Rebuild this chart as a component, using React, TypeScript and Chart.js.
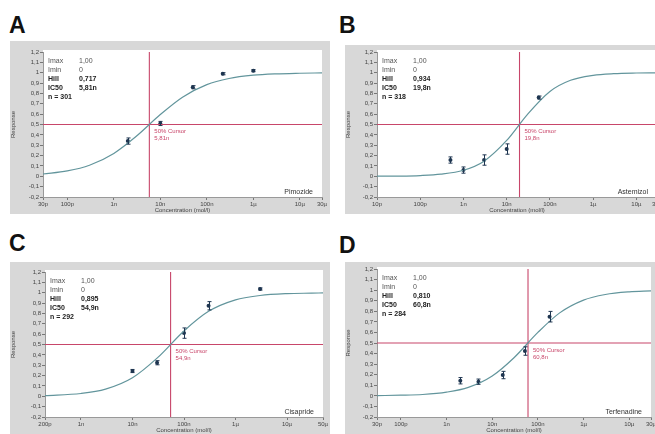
import React, { useEffect, useRef } from "react";
import { Chart, registerables } from "chart.js";

Chart.register(...registerables);

// ---------- data ----------
const PANEL_LETTERS = ["A", "B", "C", "D"];
const DRUG_NAMES = ["Pimozide", "Astemizol", "Cisapride", "Terfenadine"];
const IMAX_TEXT = ["1,00", "1,00", "1,00", "1,00"];
const IMIN_TEXT = ["0", "0", "0", "0"];
const HILL_TEXT = ["0,717", "0,934", "0,895", "0,810"];
const IC50_TEXT = ["5,81n", "19,8n", "54,9n", "60,8n"];
const N_CELLS = [301, 318, 292, 284];
const IC50_VALUES = [5.81e-9, 1.98e-8, 5.49e-8, 6.08e-8];

const X_MIN = [3e-11, 1e-11, 2e-10, 3e-11];
const X_MAX = [3e-5, 3e-5, 5e-5, 3e-5];

const TICKS_A = [3e-11, 1e-10, 1e-9, 1e-8, 1e-7, 1e-6, 1e-5, 3e-5];
const TICK_LABELS_A = ["30p", "100p", "1n", "10n", "100n", "1µ", "10µ", "30µ"];
const TICKS_B = [1e-11, 1e-10, 1e-9, 1e-8, 1e-7, 1e-6, 1e-5, 3e-5];
const TICK_LABELS_B = ["10p", "100p", "1n", "10n", "100n", "1µ", "10µ", "30µ"];
const TICKS_C = [2e-10, 1e-9, 1e-8, 1e-7, 1e-6, 1e-5, 5e-5];
const TICK_LABELS_C = ["200p", "1n", "10n", "100n", "1µ", "10µ", "50µ"];
const TICKS_D = [3e-11, 1e-10, 1e-9, 1e-8, 1e-7, 1e-6, 1e-5, 3e-5];
const TICK_LABELS_D = ["30p", "100p", "1n", "10n", "100n", "1µ", "10µ", "30µ"];

// fitted curves
const CURVE_A_X = [3e-11, 1e-10, 3e-10, 1e-9, 3e-9, 1e-8, 3e-8, 1e-7, 3e-7, 1e-6, 3e-6, 1e-5, 3e-5];
const CURVE_A_Y = [0.022, 0.052, 0.107, 0.221, 0.384, 0.596, 0.764, 0.885, 0.944, 0.976, 0.989, 0.995, 0.998];
const CURVE_B_X = [1e-11, 3e-11, 1e-10, 3e-10, 1e-9, 3e-9, 1e-8, 3e-8, 1e-7, 3e-7, 1e-6, 3e-6, 1e-5, 3e-5];
const CURVE_B_Y = [0.001, 0.002, 0.007, 0.02, 0.058, 0.146, 0.346, 0.596, 0.819, 0.927, 0.975, 0.991, 0.997, 0.999];
const CURVE_C_X = [2e-10, 1e-9, 3e-9, 1e-8, 3e-8, 1e-7, 3e-7, 1e-6, 3e-6, 1e-5, 3e-5, 5e-5];
const CURVE_C_Y = [0.007, 0.027, 0.069, 0.179, 0.368, 0.631, 0.82, 0.931, 0.973, 0.991, 0.996, 0.998];
const CURVE_D_X = [3e-11, 1e-10, 3e-10, 1e-9, 3e-9, 1e-8, 3e-8, 1e-7, 3e-7, 1e-6, 3e-6, 1e-5, 3e-5];
const CURVE_D_Y = [0.002, 0.006, 0.013, 0.035, 0.08, 0.188, 0.361, 0.6, 0.785, 0.906, 0.959, 0.984, 0.993];

// measured points (mean ± error)
const POINTS_A_X = [2e-9, 1e-8, 5e-8, 2.2e-7, 1e-6];
const POINTS_A_Y = [0.34, 0.51, 0.86, 0.99, 1.02];
const POINTS_A_ERR = [0.03, 0.02, 0.015, 0.01, 0.01];
const POINTS_B_X = [5e-10, 1e-9, 3e-9, 1e-8, 5.5e-8];
const POINTS_B_Y = [0.157, 0.06, 0.157, 0.263, 0.76];
const POINTS_B_ERR = [0.03, 0.03, 0.05, 0.05, 0.015];
const POINTS_C_X = [1e-8, 3e-8, 1e-7, 3e-7, 3e-6];
const POINTS_C_Y = [0.244, 0.324, 0.61, 0.874, 1.036];
const POINTS_C_ERR = [0.015, 0.02, 0.05, 0.04, 0.01];
const POINTS_D_X = [2e-9, 5e-9, 1.7e-8, 5.2e-8, 1.8e-7];
const POINTS_D_Y = [0.143, 0.134, 0.197, 0.424, 0.749];
const POINTS_D_ERR = [0.03, 0.025, 0.035, 0.04, 0.05];

const TICKS = [TICKS_A, TICKS_B, TICKS_C, TICKS_D];
const TICK_LABELS = [TICK_LABELS_A, TICK_LABELS_B, TICK_LABELS_C, TICK_LABELS_D];
const CURVES_X = [CURVE_A_X, CURVE_B_X, CURVE_C_X, CURVE_D_X];
const CURVES_Y = [CURVE_A_Y, CURVE_B_Y, CURVE_C_Y, CURVE_D_Y];
const POINTS_X = [POINTS_A_X, POINTS_B_X, POINTS_C_X, POINTS_D_X];
const POINTS_Y = [POINTS_A_Y, POINTS_B_Y, POINTS_C_Y, POINTS_D_Y];
const POINTS_ERR = [POINTS_A_ERR, POINTS_B_ERR, POINTS_C_ERR, POINTS_D_ERR];

// ---------- layout / style ----------
const LAYOUT = [
  { left: 10, top: 41, width: 320, height: 173, padTop: 11, padRight: 8, yW: 33, xH: 17, letterTop: 12, letterLeft: 9 },
  { left: 345, top: 45, width: 322, height: 169, padTop: 7, padRight: 10, yW: 32, xH: 17, letterTop: 12, letterLeft: 339 },
  { left: 10, top: 262, width: 320, height: 172, padTop: 10, padRight: 7, yW: 35, xH: 17, letterTop: 230, letterLeft: 9 },
  { left: 345, top: 262, width: 322, height: 172, padTop: 7, padRight: 16, yW: 32, xH: 17, letterTop: 232, letterLeft: 339 },
];
const FONT = "'Liberation Sans', Arial, sans-serif";
const GREY = "#d8d8d8";
const RED = "#c8466a";
const CURVE = "#62959c";
const MARK = "#1e3550";

const fmtY = (v: number) => {
  const s = (Math.round(v * 10) / 10).toFixed(1);
  if (s === "-0.0") return "0";
  return s.endsWith(".0") ? s.slice(0, -2) : s.replace(".", ",");
};

const bgPlugin = {
  id: "panelBg",
  beforeDraw(chart: any) {
    const { ctx, chartArea: a, width, height } = chart;
    ctx.save();
    ctx.fillStyle = GREY;
    ctx.fillRect(0, 0, width, height);
    ctx.fillStyle = "#ffffff";
    ctx.fillRect(a.left, a.top - 2, a.right - a.left, a.bottom - a.top + 3);
    ctx.restore();
  },
};

const errPlugin = {
  id: "errBars",
  afterDatasetsDraw(chart: any, _args: any, opts: any) {
    const { ctx } = chart;
    const meta = chart.getDatasetMeta(3);
    const ys = chart.scales.y;
    ctx.save();
    ctx.strokeStyle = MARK;
    ctx.lineWidth = 1;
    meta.data.forEach((pt: any, i: number) => {
      const raw = chart.data.datasets[3].data[i];
      const e = opts.err[i];
      const x = Math.round(pt.x) + 0.5;
      const y1 = ys.getPixelForValue(raw.y + e);
      const y2 = ys.getPixelForValue(raw.y - e);
      ctx.beginPath();
      ctx.moveTo(x, y1);
      ctx.lineTo(x, y2);
      ctx.moveTo(x - 2, y1);
      ctx.lineTo(x + 2, y1);
      ctx.moveTo(x - 2, y2);
      ctx.lineTo(x + 2, y2);
      ctx.stroke();
    });
    ctx.restore();
  },
};

const textPlugin = {
  id: "panelText",
  afterDraw(chart: any, _args: any, opts: any) {
    const { ctx, chartArea: a } = chart;
    ctx.save();
    ctx.textBaseline = "middle";
    ctx.textAlign = "left";
    const rows = [
      ["Imax", opts.imax, false],
      ["Imin", opts.imin, false],
      ["Hill", opts.hill, true],
      ["IC50", opts.ic50, true],
    ];
    rows.forEach((r, k) => {
      ctx.font = `${r[2] ? "bold " : ""}7px ${FONT}`;
      ctx.fillStyle = r[2] ? "#222" : "#555";
      const y = a.top + 9 + k * 9;
      ctx.fillText(r[0] as string, a.left + 5, y);
      ctx.fillText(r[1] as string, a.left + 36, y);
    });
    ctx.font = `bold 7px ${FONT}`;
    ctx.fillStyle = "#222";
    ctx.fillText(`n = ${opts.n}`, a.left + 5, a.top + 9 + 4 * 9);

    // cursor label
    const xs = chart.scales.x;
    const ys = chart.scales.y;
    const cx = xs.getPixelForValue(opts.ic50v);
    const cy = ys.getPixelForValue(0.5);
    ctx.font = `6px ${FONT}`;
    ctx.fillStyle = RED;
    ctx.fillText("50% Cursor", cx + 5, cy + 7);
    ctx.fillText(opts.ic50, cx + 5, cy + 14);

    // drug name
    ctx.font = `7px ${FONT}`;
    ctx.fillStyle = "#333";
    ctx.textAlign = "right";
    ctx.fillText(opts.drug, a.right - 9, a.bottom - 5);
    ctx.restore();
  },
};

function Panel({ idx }: { idx: number }) {
  const ref = useRef<HTMLCanvasElement | null>(null);
  const L = LAYOUT[idx];
  useEffect(() => {
    if (!ref.current) return;
    const ticks = TICKS[idx];
    const labels = TICK_LABELS[idx];
    const xmin = X_MIN[idx];
    const xmax = X_MAX[idx];
    const ic50 = IC50_VALUES[idx];
    const chart = new Chart(ref.current, {
      type: "line",
      data: {
        datasets: [
          {
            label: "fit",
            data: CURVES_X[idx].map((x, i) => ({ x, y: CURVES_Y[idx][i] })),
            borderColor: CURVE,
            borderWidth: 1.2,
            pointRadius: 0,
            cubicInterpolationMode: "monotone",
            fill: false,
          },
          {
            label: "v",
            data: [
              { x: ic50, y: -0.2 },
              { x: ic50, y: 1.2 },
            ],
            borderColor: RED,
            borderWidth: 1.1,
            pointRadius: 0,
          },
          {
            label: "h",
            data: [
              { x: xmin, y: 0.5 },
              { x: xmax, y: 0.5 },
            ],
            borderColor: RED,
            borderWidth: 1.1,
            pointRadius: 0,
          },
          {
            label: "points",
            data: POINTS_X[idx].map((x, i) => ({ x, y: POINTS_Y[idx][i] })),
            showLine: false,
            pointRadius: 2,
            pointBackgroundColor: MARK,
            pointBorderColor: MARK,
            pointBorderWidth: 0,
          },
        ],
      } as any,
      options: {
        animation: false,
        responsive: false,
        maintainAspectRatio: false,
        devicePixelRatio: 1,
        layout: { padding: { top: L.padTop, right: L.padRight, left: 0, bottom: 0 } },
        font: { family: FONT },
        plugins: {
          legend: { display: false },
          tooltip: { enabled: false },
          errBars: { err: POINTS_ERR[idx] },
          panelText: {
            imax: IMAX_TEXT[idx],
            imin: IMIN_TEXT[idx],
            hill: HILL_TEXT[idx],
            ic50: IC50_TEXT[idx],
            ic50v: ic50,
            n: N_CELLS[idx],
            drug: DRUG_NAMES[idx],
          },
        } as any,
        scales: {
          x: {
            type: "logarithmic",
            min: xmin,
            max: xmax,
            afterBuildTicks: (s: any) => {
              s.ticks = ticks.map((v) => ({ value: v }));
            },
            afterFit: (s: any) => {
              s.height = L.xH;
            },
            ticks: {
              autoSkip: false,
              maxRotation: 0,
              padding: 1,
              color: "#444",
              font: { size: 6, family: FONT },
              callback: (v: any) => {
                const k = ticks.findIndex((t) => Math.abs(t - v) / t < 1e-6);
                return k >= 0 ? labels[k] : "";
              },
            },
            grid: { display: true, drawOnChartArea: false, drawTicks: true, tickLength: 3, color: "#777" },
            border: { display: true, color: "#999" },
            title: {
              display: true,
              text: "Concentration (mol/l)",
              color: "#444",
              font: { size: 6, family: FONT },
              padding: { top: 0, bottom: 0 },
            },
          },
          y: {
            type: "linear",
            min: -0.2,
            max: 1.2,
            afterFit: (s: any) => {
              s.width = L.yW;
            },
            ticks: {
              stepSize: 0.1,
              padding: 1,
              color: "#444",
              font: { size: 6, family: FONT },
              callback: (v: any) => fmtY(Number(v)),
            },
            grid: { display: true, drawOnChartArea: false, drawTicks: true, tickLength: 3, color: "#777" },
            border: { display: true, color: "#999" },
            title: {
              display: true,
              text: "Response",
              color: "#444",
              font: { size: 6, family: FONT },
              padding: { top: 0, bottom: 2 },
            },
          },
        },
      } as any,
      plugins: [bgPlugin, errPlugin, textPlugin],
    });
    return () => chart.destroy();
  }, [idx]);
  return (
    <>
      <div
        style={{
          position: "absolute",
          left: L.letterLeft,
          top: L.letterTop,
          fontFamily: FONT,
          fontWeight: "bold",
          fontSize: 23,
          lineHeight: "26px",
          color: "#111",
        }}
      >
        {PANEL_LETTERS[idx]}
      </div>
      <canvas
        ref={ref}
        width={L.width}
        height={L.height}
        style={{ position: "absolute", left: L.left, top: L.top, width: L.width, height: L.height }}
      />
    </>
  );
}

export default function App() {
  return (
    <div
      style={{
        position: "fixed",
        left: 0,
        top: 0,
        width: 655,
        height: 434,
        overflow: "hidden",
        background: "#ffffff",
      }}
    >
      {[0, 1, 2, 3].map((i) => (
        <Panel key={i} idx={i} />
      ))}
    </div>
  );
}
